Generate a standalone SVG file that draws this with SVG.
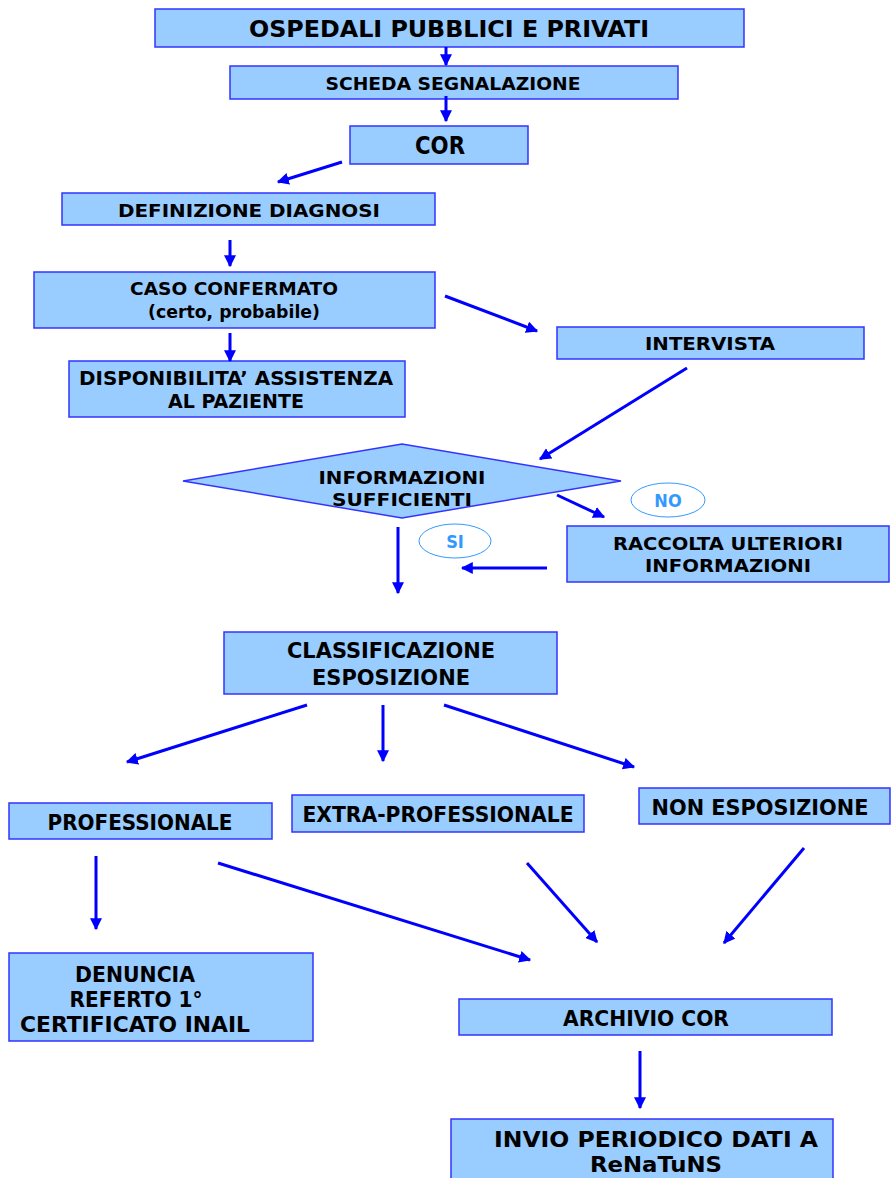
<svg xmlns="http://www.w3.org/2000/svg" width="891" height="1178" viewBox="0 0 891 1178">
<defs>
<style>
.box{fill:#99ccff;stroke:#3333ff;stroke-width:1.5}
.t{font-family:"DejaVu Sans Condensed","DejaVu Sans","Liberation Sans",sans-serif;font-weight:bold;fill:#000;text-anchor:middle}
.c{stroke:#0000ff;stroke-width:3;fill:none}
.oval{fill:#fff;stroke:#3399ff;stroke-width:1}
.lab{font-family:"DejaVu Sans Condensed","DejaVu Sans","Liberation Sans",sans-serif;font-weight:bold;fill:#3399ff;text-anchor:middle;font-size:18px}
</style>
<marker id="ah" viewBox="0 0 10 10" refX="9" refY="5" markerWidth="4" markerHeight="4" orient="auto" markerUnits="strokeWidth">
<path d="M0,0 L10,5 L0,10 z" fill="#0000ff"/>
</marker>
</defs>

<g id="n1"><rect class="box" x="155" y="9" width="589" height="38"/><text class="t" x="449" y="37" font-size="23" textLength="400" lengthAdjust="spacingAndGlyphs">OSPEDALI PUBBLICI E PRIVATI</text></g>
<g id="n2"><rect class="box" x="230" y="66" width="448" height="33"/><text class="t" x="453" y="90" font-size="18" textLength="255" lengthAdjust="spacingAndGlyphs">SCHEDA SEGNALAZIONE</text></g>
<g id="n3"><rect class="box" x="350" y="126" width="178" height="38"/><text class="t" x="440" y="154" font-size="24" textLength="50" lengthAdjust="spacingAndGlyphs">COR</text></g>
<g id="n4"><rect class="box" x="62" y="193" width="373" height="32"/><text class="t" x="249" y="217" font-size="18" textLength="262" lengthAdjust="spacingAndGlyphs">DEFINIZIONE DIAGNOSI</text></g>
<g id="n5"><rect class="box" x="34" y="272" width="401" height="56"/><text class="t" x="234" y="295" font-size="18" textLength="208" lengthAdjust="spacingAndGlyphs">CASO CONFERMATO</text><text class="t" x="234" y="318" font-size="18" textLength="172" lengthAdjust="spacingAndGlyphs">(certo, probabile)</text></g>
<g id="n6"><rect class="box" x="69" y="361" width="336" height="56"/><text class="t" x="236" y="385" font-size="19" textLength="314" lengthAdjust="spacingAndGlyphs">DISPONIBILITA’ ASSISTENZA</text><text class="t" x="236" y="408" font-size="19" textLength="136" lengthAdjust="spacingAndGlyphs">AL PAZIENTE</text></g>
<g id="n7"><rect class="box" x="557" y="327" width="307" height="32"/><text class="t" x="710" y="350" font-size="18" textLength="130" lengthAdjust="spacingAndGlyphs">INTERVISTA</text></g>
<g id="n8"><polygon class="box" points="183,481 402,444 621,481 402,518"/><text class="t" x="402" y="484" font-size="18" textLength="167" lengthAdjust="spacingAndGlyphs">INFORMAZIONI</text><text class="t" x="402" y="506" font-size="18" textLength="140" lengthAdjust="spacingAndGlyphs">SUFFICIENTI</text></g>
<g id="lno"><ellipse class="oval" cx="668" cy="500" rx="37" ry="17"/><text class="lab" x="668" y="507">NO</text></g>
<g id="lsi"><ellipse class="oval" cx="455" cy="541" rx="36" ry="17"/><text class="lab" x="455" y="548">SI</text></g>
<g id="n9"><rect class="box" x="567" y="526" width="322" height="56"/><text class="t" x="728" y="550" font-size="18" textLength="230" lengthAdjust="spacingAndGlyphs">RACCOLTA ULTERIORI</text><text class="t" x="728" y="572" font-size="18" textLength="166" lengthAdjust="spacingAndGlyphs">INFORMAZIONI</text></g>
<g id="n10"><rect class="box" x="224" y="632" width="333" height="62"/><text class="t" x="391" y="658" font-size="21" textLength="208" lengthAdjust="spacingAndGlyphs">CLASSIFICAZIONE</text><text class="t" x="391" y="685" font-size="21" textLength="158" lengthAdjust="spacingAndGlyphs">ESPOSIZIONE</text></g>
<g id="n11"><rect class="box" x="9" y="803" width="263" height="36"/><text class="t" x="140" y="830" font-size="21" textLength="185" lengthAdjust="spacingAndGlyphs">PROFESSIONALE</text></g>
<g id="n12"><rect class="box" x="292" y="795" width="292" height="37"/><text class="t" x="438" y="822" font-size="21" textLength="271" lengthAdjust="spacingAndGlyphs">EXTRA-PROFESSIONALE</text></g>
<g id="n13"><rect class="box" x="639" y="788" width="251" height="36"/><text class="t" x="760" y="815" font-size="21" textLength="217" lengthAdjust="spacingAndGlyphs">NON ESPOSIZIONE</text></g>
<g id="n14"><rect class="box" x="9" y="953" width="304" height="88"/><text class="t" x="135" y="982" font-size="22" textLength="120" lengthAdjust="spacingAndGlyphs">DENUNCIA</text><text class="t" x="136" y="1007" font-size="22" textLength="133" lengthAdjust="spacingAndGlyphs">REFERTO 1°</text><text class="t" x="135" y="1032" font-size="22" textLength="230" lengthAdjust="spacingAndGlyphs">CERTIFICATO INAIL</text></g>
<g id="n15"><rect class="box" x="459" y="999" width="373" height="36"/><text class="t" x="646" y="1026" font-size="21" textLength="166" lengthAdjust="spacingAndGlyphs">ARCHIVIO COR</text></g>
<g id="n16"><rect class="box" x="451" y="1119" width="382" height="62"/><text class="t" x="656" y="1147" font-size="22" textLength="324" lengthAdjust="spacingAndGlyphs">INVIO PERIODICO DATI A</text><text class="t" x="656" y="1172" font-size="22" textLength="132" lengthAdjust="spacingAndGlyphs">ReNaTuNS</text></g>

<g id="connectors">
<line class="c" x1="446" y1="47" x2="446" y2="65" marker-end="url(#ah)"/>
<line class="c" x1="446" y1="96" x2="446" y2="121" marker-end="url(#ah)"/>
<line class="c" x1="342" y1="162" x2="278" y2="182" marker-end="url(#ah)"/>
<line class="c" x1="230" y1="240" x2="230" y2="266" marker-end="url(#ah)"/>
<line class="c" x1="230" y1="333" x2="230" y2="361" marker-end="url(#ah)"/>
<line class="c" x1="445" y1="296" x2="537" y2="331" marker-end="url(#ah)"/>
<line class="c" x1="687" y1="368" x2="540" y2="459" marker-end="url(#ah)"/>
<line class="c" x1="557" y1="495" x2="604" y2="517" marker-end="url(#ah)"/>
<line class="c" x1="398" y1="527" x2="398" y2="593" stroke-width="4" marker-end="url(#ah)"/>
<line class="c" x1="547" y1="568" x2="462" y2="568" marker-end="url(#ah)"/>
<line class="c" x1="307" y1="705" x2="127" y2="762" marker-end="url(#ah)"/>
<line class="c" x1="383" y1="705" x2="383" y2="761" marker-end="url(#ah)"/>
<line class="c" x1="444" y1="705" x2="634" y2="767" marker-end="url(#ah)"/>
<line class="c" x1="96" y1="856" x2="96" y2="929" marker-end="url(#ah)"/>
<line class="c" x1="218" y1="863" x2="530" y2="960" marker-end="url(#ah)"/>
<line class="c" x1="527" y1="863" x2="597" y2="942" marker-end="url(#ah)"/>
<line class="c" x1="804" y1="848" x2="724" y2="943" marker-end="url(#ah)"/>
<line class="c" x1="640" y1="1051" x2="640" y2="1108" marker-end="url(#ah)"/>
</g>
</svg>
